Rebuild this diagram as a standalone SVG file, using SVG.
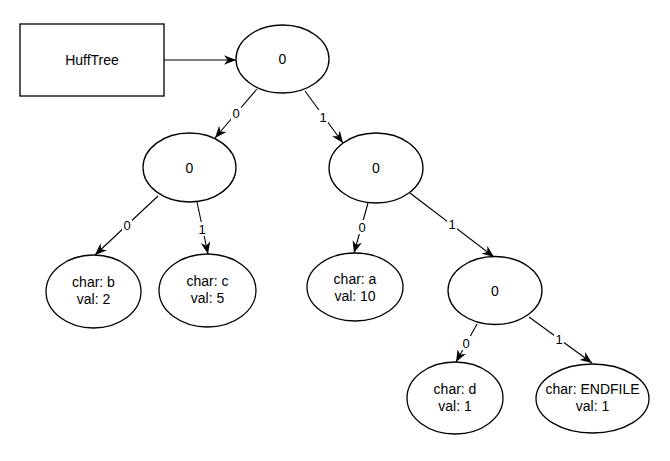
<svg xmlns="http://www.w3.org/2000/svg" width="670" height="461" viewBox="0 0 670 461">
<style>
.shape{fill:#fff;stroke:#000;stroke-width:1.3}
.t{font-family:"Liberation Sans",Arial,sans-serif;font-size:14px;fill:#000;text-anchor:middle}
.e{stroke:#000;stroke-width:1.1;fill:none;marker-end:url(#arr)}
.lb{fill:#fff}
.lt{font-family:"Liberation Sans",Arial,sans-serif;font-size:13px;fill:#000;text-anchor:middle}
</style>
<defs>
<marker id="arr" viewBox="0 0 10 8" refX="10" refY="4" markerWidth="12" markerHeight="10" markerUnits="userSpaceOnUse" orient="auto">
<path d="M0,0 L10,4 L0,8 L3,4 z" fill="#000"/>
</marker>
</defs>
<rect width="670" height="461" fill="#fff"/>
<g id="connectors">
<line class="e" x1="164" y1="60" x2="236" y2="60"/>
<line class="e" x1="257" y1="89" x2="215" y2="138"/>
<line class="e" x1="305" y1="91" x2="343" y2="143"/>
<line class="e" x1="158" y1="196" x2="95" y2="255"/>
<line class="e" x1="197" y1="202" x2="208" y2="254"/>
<line class="e" x1="368" y1="203" x2="354" y2="253"/>
<line class="e" x1="410" y1="193" x2="494" y2="257"/>
<line class="e" x1="477" y1="324" x2="456" y2="362"/>
<line class="e" x1="529" y1="317" x2="592" y2="363"/>
<g id="edge-labels">
<rect class="lb" x="231" y="106" width="10" height="14"/><text class="lt" x="236" y="118">0</text>
<rect class="lb" x="318" y="110" width="10" height="14"/><text class="lt" x="323" y="122">1</text>
<rect class="lb" x="122" y="218" width="10" height="14"/><text class="lt" x="127" y="230">0</text>
<rect class="lb" x="197" y="222" width="10" height="14"/><text class="lt" x="202" y="234">1</text>
<rect class="lb" x="357" y="220" width="10" height="14"/><text class="lt" x="362" y="232">0</text>
<rect class="lb" x="447" y="217" width="10" height="14"/><text class="lt" x="452" y="229">1</text>
<rect class="lb" x="461" y="336" width="10" height="14"/><text class="lt" x="466" y="348">0</text>
<rect class="lb" x="554" y="332" width="10" height="14"/><text class="lt" x="559" y="344">1</text>
</g>
</g>
<g id="huffTree"><rect class="shape" x="20" y="24" width="144" height="72"/><text class="t" x="92" y="64.5">HuffTree</text></g>
<g id="root"><ellipse class="shape" cx="282.5" cy="59" rx="46.5" ry="34"/><text class="t" x="282.5" y="63.5">0</text></g>
<g id="n0"><ellipse class="shape" cx="189.5" cy="167.5" rx="46.5" ry="34.5"/><text class="t" x="189.5" y="172.5">0</text></g>
<g id="n1"><ellipse class="shape" cx="376" cy="168" rx="47" ry="35"/><text class="t" x="376" y="172.5">0</text></g>
<g id="nb"><ellipse class="shape" cx="93.5" cy="291.5" rx="47.5" ry="36.5"/><text class="t" x="93.5" y="287">char: b</text><text class="t" x="93.5" y="303.5">val: 2</text></g>
<g id="nc"><ellipse class="shape" cx="207.5" cy="290.5" rx="48.5" ry="36.5"/><text class="t" x="207.5" y="286">char: c</text><text class="t" x="207.5" y="302.5">val: 5</text></g>
<g id="na"><ellipse class="shape" cx="355" cy="287" rx="48" ry="34"/><text class="t" x="355" y="284">char: a</text><text class="t" x="355" y="300.5">val: 10</text></g>
<g id="n11"><ellipse class="shape" cx="495" cy="290.5" rx="47" ry="34"/><text class="t" x="495" y="295.5">0</text></g>
<g id="nd"><ellipse class="shape" cx="455" cy="398" rx="48" ry="36"/><text class="t" x="455" y="394">char: d</text><text class="t" x="455" y="410.5">val: 1</text></g>
<g id="nend"><ellipse class="shape" cx="592.5" cy="398.5" rx="56.5" ry="34.5"/><text class="t" x="592.5" y="394">char: ENDFILE</text><text class="t" x="592.5" y="410.5">val: 1</text></g>
</svg>
